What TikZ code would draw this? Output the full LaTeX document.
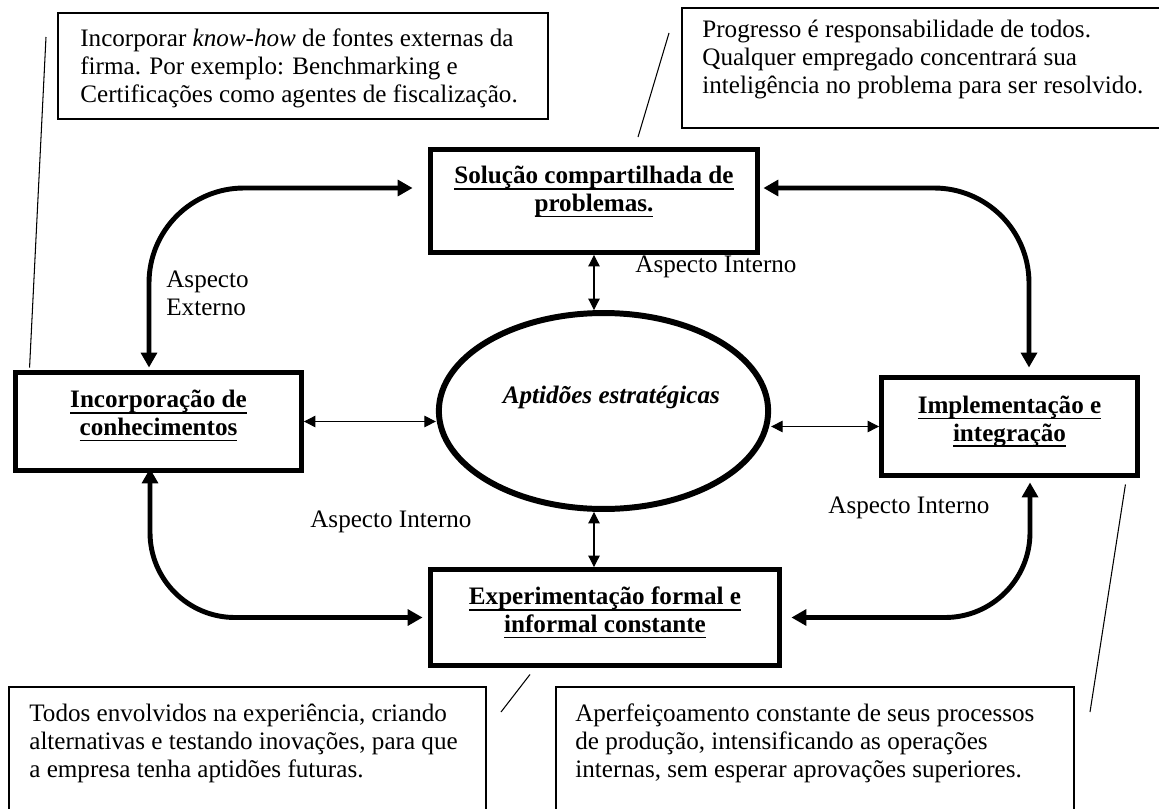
\documentclass[tikz,border=0pt]{standalone}
\usepackage{fontspec}
\setmainfont{Liberation Serif}
\usetikzlibrary{arrows.meta,shapes.geometric}
\newcommand\letra{\fontsize{14.3}{15.8}\selectfont}
\newcommand\sublinha[1]{\setbox0=\hbox{#1}\rlap{\vrule width\wd0 height -2.4pt depth 3.4pt}\box0}
\newcommand\fundo[1]{\rule[-#1]{0pt}{#1}}
\begin{document}
\begin{tikzpicture}[x=0.02cm,y=-0.02cm,font=\letra,
  caixa/.style={draw,line width=2.8pt,inner sep=0pt,align=center,font=\letra\bfseries},
  nota/.style={draw,line width=1pt},
  notatexto/.style={anchor=base west,align=left,inner sep=0pt,font=\letra},
  guia/.style={line width=0.6pt},
  seta/.style={line width=2.8pt,rounded corners=1.9cm,{Triangle[length=8.5pt,width=9pt]}-{Triangle[length=8.5pt,width=9pt]}},
  setinha/.style={line width=0.6pt,{Triangle[length=6.5pt,width=6.5pt]}-{Triangle[length=6.5pt,width=6.5pt]}}]
\useasboundingbox (0,0) rectangle (1159,808);
\draw[nota] (58,13) rectangle (548,119);
\draw[nota] (682,8) rectangle (1175,128);
\draw[nota] (9,687) rectangle (486,830);
\draw[nota] (556,687) rectangle (1074,830);
\node[notatexto] (knowhow) at (80,102.5) {Incorporar \textit{know-how} de fontes externas da\\firma. Por exemplo: Benchmarking e\\Certificações como agentes de fiscalização.};
\node[notatexto] (progresso) at (702,93.5) {Progresso é responsabilidade de todos.\\Qualquer empregado concentrará sua\\inteligência no problema para ser resolvido.};
\node[notatexto] (todos) at (29,777) {Todos envolvidos na experiência, criando\\alternativas e testando inovações, para que\\a empresa tenha aptidões futuras.};
\node[notatexto] (aperf) at (575,777) {Aperfeiçoamento constante de seus processos\\de produção, intensificando as operações\\internas, sem esperar aprovações superiores.};
\node[caixa,minimum width=6.54cm,minimum height=2.06cm] (sol) at (594,201) {\sublinha{Solução compartilhada de}\\\sublinha{problemas.}\fundo{14pt}};
\node[caixa,minimum width=5.72cm,minimum height=1.96cm] (inc) at (158.5,421.5) {\sublinha{Incorporação de}\\\sublinha{conhecimentos}\fundo{10pt}};
\node[caixa,minimum width=5.12cm,minimum height=1.96cm] (imp) at (1009.5,426.5) {\sublinha{Implementação e}\\\sublinha{integração}\fundo{9pt}};
\node[caixa,minimum width=6.98cm,minimum height=1.92cm] (exper) at (605,617.5) {\sublinha{Experimentação formal e}\\\sublinha{informal constante}\fundo{9pt}};
\node[draw,ellipse,line width=3.4pt,inner sep=0pt,minimum width=6.42cm,minimum height=3.92cm,text height=10.5pt,text depth=19.5pt,font=\letra\bfseries\itshape] (apt) at (603.5,411) {\hspace*{9pt}Aptidões estratégicas};
\node[notatexto] (aext) at (166,315) {Aspecto\\Externo};
\node[notatexto] (aint1) at (635,272) {Aspecto Interno};
\node[notatexto] (aint2) at (310,527) {Aspecto Interno};
\node[notatexto] (aint3) at (828,513) {Aspecto Interno};
\coordinate (kh) at (46,37);
\draw[guia] (kh) -- ([shift={(16.5,-2.5)}]inc.north west);
\coordinate (pg) at (669,33);
\draw[guia] (pg) -- ([shift={(44,-10)}]sol.north);
\coordinate (td) at (501,712);
\draw[guia] ([shift={(-75,6.5)}]exper.south) -- (td);
\coordinate (ap) at (1090,712);
\draw[guia] ([shift={(-14.5,6.5)}]imp.south east) -- (ap);
\draw[seta] ([shift={(-15.5,-13)}]sol.west) -| ([shift={(-9.5,-2.5)}]inc.north);
\draw[seta] ([shift={(3.5,-13)}]sol.east) -| ([shift={(19.5,-7.5)}]imp.north);
\draw[seta,rounded corners=1.7cm] ([shift={(-8.5,-4.5)}]inc.south) |- ([shift={(-5.5,0)}]exper.west);
\draw[seta,rounded corners=1.7cm] ([shift={(20.5,4.5)}]imp.south) |- ([shift={(9.5,0)}]exper.east);
\draw[setinha] (sol.south) -- (sol.south |- apt.north);
\draw[setinha] (inc.east) -- (inc.east -| apt.west);
\draw[setinha] (imp.west -| apt.east) -- (imp.west);
\draw[setinha] (sol.south |- apt.south) -- (sol.south |- exper.north);
\end{tikzpicture}
\end{document}
